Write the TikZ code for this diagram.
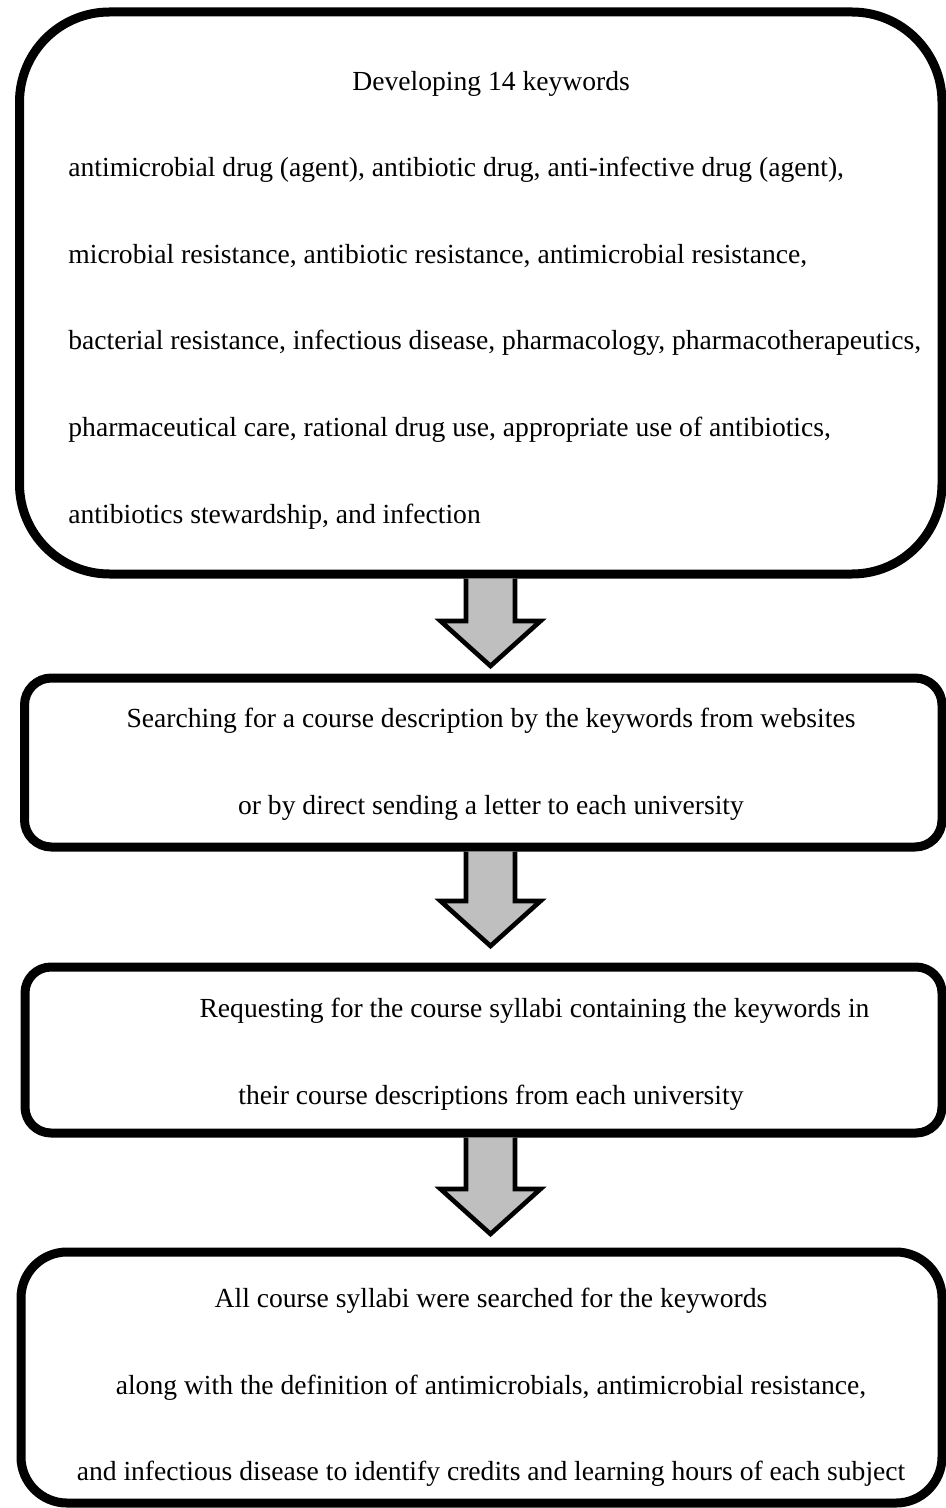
\documentclass[tikz,border=0pt]{standalone}
\usepackage{fontspec}
\setmainfont{Liberation Serif}
\usepackage{tikz}
\usetikzlibrary{calc}

\begin{document}
\begin{tikzpicture}[
  x=0.5pt, y=-0.5pt,
  frame/.style={draw, line width=4.5pt, inner sep=0pt, outer sep=0pt},
  txt/.style={inner sep=0pt, font=\fontsize{13.8}{43.3}\selectfont},
  blockarrow/.style={draw, line width=2.3pt, fill=black!25}
]
\useasboundingbox (0,0) rectangle (946,1508);
% frames
\node[frame, rounded corners=45pt, minimum width=461.25pt, minimum height=281pt] (keywords) at (480.75,293) {};
\node[frame, rounded corners=13.5pt, minimum width=458.75pt, minimum height=84.5pt] (search) at (483.25,762.5) {};
\node[frame, rounded corners=13pt, minimum width=458.5pt, minimum height=83pt] (request) at (483.5,1050) {};
\node[frame, rounded corners=23pt, minimum width=460.5pt, minimum height=125.5pt] (syllabi) at (481.5,1377.5) {};
% texts
\node[txt, anchor=west, align=left] (keywordstxt) at (68,300) {
  \hspace*{142pt}Developing 14 keywords\\
  antimicrobial drug (agent), antibiotic drug, anti-infective drug (agent),\\
  microbial resistance, antibiotic resistance, antimicrobial resistance,\\
  bacterial resistance, infectious disease, pharmacology, pharmacotherapeutics,\\
  pharmaceutical care, rational drug use, appropriate use of antibiotics,\\
  antibiotics stewardship, and infection};
\node[txt, align=center] (searchtxt) at (491,764) {
  Searching for a course description by the keywords from websites\\
  or by direct sending a letter to each university};
\node[txt, align=center] (requesttxt) at (491,1054) {
  \hspace*{43.5pt}Requesting for the course syllabi containing the keywords in\\
  their course descriptions from each university};
\node[txt, align=center] (syllabitxt) at (491,1387.5) {
  All course syllabi were searched for the keywords\\
  along with the definition of antimicrobials, antimicrobial resistance,\\
  and infectious disease to identify credits and learning hours of each subject};
% block arrows
\coordinate (ax) at (490.5,0);
\foreach \from/\to/\gap in {keywords/search/12, search/request/21, request/syllabi/18} {
  \coordinate (tip) at ($(\to.north -| ax)+(0,-\gap)$);
  \filldraw[blockarrow] ($(\from.south -| ax)+(-24.5,4.5)$) -- ($(tip)+(-24.5,-45)$)
    -- ($(tip)+(-50,-45)$) -- (tip) -- ($(tip)+(50,-45)$) -- ($(tip)+(24.5,-45)$)
    -- ($(\from.south -| ax)+(24.5,4.5)$);
}
\end{tikzpicture}
\end{document}
